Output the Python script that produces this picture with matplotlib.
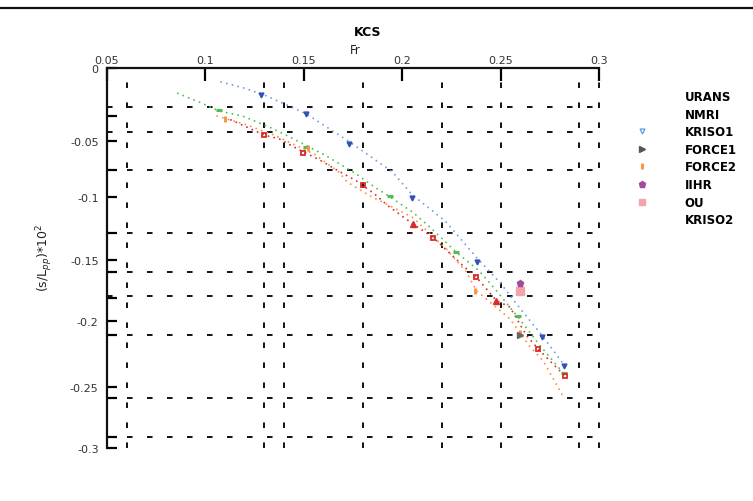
import matplotlib
matplotlib.use("Agg")
import matplotlib.pyplot as plt
from matplotlib.lines import Line2D

plt.rcParams["font.family"] = ["DejaVu Sans"]
plt.rcParams["lines.scale_dashes"] = False

# --- sinkage vs Froude number, KCS ------------------------------------------
kriso1_fr = [0.108, 0.120, 0.131, 0.151, 0.173, 0.195, 0.205, 0.222, 0.238, 0.250, 0.261, 0.271, 0.283]
kriso1_s = [-0.011, -0.016, -0.022, -0.036, -0.058, -0.082, -0.100, -0.121, -0.150, -0.170, -0.192, -0.211, -0.236]

kriso2_fr = [0.128, 0.151, 0.173, 0.205, 0.238, 0.271, 0.282]
kriso2_s = [-0.021, -0.036, -0.060, -0.103, -0.153, -0.212, -0.235]

nmri_fr = [0.086, 0.097, 0.107, 0.119, 0.133, 0.141, 0.156, 0.161, 0.177, 0.185, 0.194,
           0.2055, 0.214, 0.2275, 0.239, 0.248, 0.259, 0.270, 0.283]
nmri_s = [-0.020, -0.027, -0.034, -0.038, -0.047, -0.053, -0.065, -0.069, -0.084, -0.093, -0.102,
          -0.114, -0.1255, -0.1455, -0.160, -0.176, -0.197, -0.219, -0.243]
nmri_pts_fr = [0.107, 0.151, 0.194, 0.2275, 0.259, 0.282]
nmri_pts_s = [-0.033, -0.062, -0.101, -0.145, -0.196, -0.241]

force2_fr = [0.106, 0.1155, 0.1214, 0.1274, 0.135, 0.1417, 0.1554, 0.168, 0.172, 0.1834, 0.1987,
             0.2053, 0.2225, 0.2326, 0.2377, 0.2486, 0.2547, 0.2649, 0.2715, 0.2776, 0.2815]
force2_s = [-0.038, -0.0424, -0.045, -0.0487, -0.053, -0.058, -0.068, -0.0824, -0.090, -0.1008, -0.1127,
            -0.118, -0.143, -0.161, -0.1758, -0.190, -0.198, -0.220, -0.231, -0.2476, -0.2587]
force2_pts_fr = [0.110, 0.152, 0.237, 0.260]
force2_pts_s = [-0.040, -0.063, -0.176, -0.209]

urans_fr = [0.113, 0.130, 0.1376, 0.147, 0.1588, 0.1673, 0.1766, 0.186, 0.1927, 0.2055, 0.2157,
            0.2308, 0.2377, 0.2479, 0.2547, 0.2632, 0.2691, 0.2766, 0.2827]
urans_s = [-0.041, -0.053, -0.056, -0.064, -0.0732, -0.081, -0.089, -0.0995, -0.1087, -0.1232, -0.1337,
           -0.156, -0.1652, -0.1837, -0.1887, -0.2113, -0.2218, -0.2337, -0.243]
urans_sq_fr = [0.130, 0.1494, 0.180, 0.2157, 0.2377, 0.2691, 0.2827]
urans_sq_s = [-0.053, -0.067, -0.092, -0.134, -0.165, -0.222, -0.243]
urans_tri_fr = [0.2055, 0.2479]
urans_tri_s = [-0.123, -0.184]

force1_fr = [0.2598]
force1_s = [-0.2108]
iihr_fr = [0.260]
iihr_s = [-0.170]
ou_fr = [0.260]
ou_s = [-0.176]

legend_labels = ["URANS", "NMRI", "KRISO1", "FORCE1", "FORCE2", "IIHR", "OU", "KRISO2"]

x_ticks = [0.05, 0.1, 0.15, 0.2, 0.25, 0.3]
x_ticklabels = ["0.05", "0.1", "0.15", "0.2", "0.25", "0.3"]
y_ticks = [0.0, -0.0576, -0.1018, -0.1516, -0.1997, -0.2518, -0.3]
y_ticklabels = ["0", "-0.05", "-0.1", "-0.15", "-0.2", "-0.25", "-0.3"]
y_minor = [-0.0379, -0.0805, -0.1303, -0.161, -0.1816, -0.2108, -0.2605, -0.2913]
grid_y = [-0.0308, -0.0505, -0.0805, -0.1303, -0.1611, -0.180, -0.2108, -0.2605, -0.2913]
grid_x = [0.06, 0.13, 0.14, 0.18, 0.22, 0.25, 0.29, 0.30]

BLUE = "#6f9ee0"
DBLUE = "#2f52b8"
GREEN = "#4fbf4f"
ORANGE = "#f8913a"
RED = "#d92b2b"

fig = plt.figure(figsize=(7.53, 5.02), dpi=100)
ax = fig.add_axes([107 / 753, 1 - 449 / 502, 492 / 753, 380 / 502])
ax.set_xlim(0.05, 0.3)
ax.set_ylim(-0.3, 0.0)

# dashed reference grid
dash = (0, (4.0, 10.4))
for gy in grid_y:
    ax.axhline(gy, color="#111", lw=1.4, ls=dash, zorder=1)
for gx in grid_x:
    ax.axvline(gx, color="#111", lw=1.4, ls=dash, zorder=1, clip_on=False)

dots = dict(lw=1.4, ls=(0, (0.01, 4.2)), dash_capstyle="round", zorder=3)
ax.plot(kriso1_fr, kriso1_s, color=BLUE, **dots)
ax.plot(nmri_fr, nmri_s, color=GREEN, **dots)
ax.plot(force2_fr, force2_s, color=ORANGE, **dots)
ax.plot(urans_fr, urans_s, color=RED, **dots)

ax.plot(kriso2_fr, kriso2_s, "v", ms=3.5, color=DBLUE, ls="none", zorder=4)
ax.plot(nmri_pts_fr, nmri_pts_s, "_", ms=5, mew=2.2, color=GREEN, ls="none", zorder=4)
ax.plot(force2_pts_fr, force2_pts_s, "|", ms=4.5, mew=2.0, color=ORANGE, ls="none", zorder=4)
ax.plot(urans_sq_fr, urans_sq_s, "s", ms=3.5, mfc="none", mew=1.3, color=RED, ls="none", zorder=4)
ax.plot(urans_tri_fr, urans_tri_s, "^", ms=5, color=RED, ls="none", zorder=4)
ax.plot(force1_fr, force1_s, ">", ms=4.5, color="#666666", ls="none", zorder=5)
ax.plot(ou_fr, ou_s, "s", ms=6, color="#f4a3aa", ls="none", zorder=5)
ax.plot(iihr_fr, iihr_s, "p", ms=4.5, color="#a24aa0", ls="none", zorder=6)

# axes frame: top and left only
for side in ("right", "bottom"):
    ax.spines[side].set_visible(False)
for side in ("top", "left"):
    ax.spines[side].set_linewidth(1.6)
    ax.spines[side].set_color("#111")

ax.xaxis.tick_top()
ax.set_xticks(x_ticks)
ax.set_xticklabels(x_ticklabels)
ax.set_yticks(y_ticks)
ax.set_yticklabels(y_ticklabels)
ax.set_yticks(y_minor, minor=True)
ax.tick_params(axis="x", direction="in", length=9, width=1.6, labelsize=8,
               labelcolor="#333", pad=2, top=True, bottom=False)
ax.tick_params(axis="y", which="both", direction="in", length=7, width=1.6,
               labelsize=8, labelcolor="#333", pad=6)

fig.text(355 / 753, 1 - 51 / 502, "Fr", fontsize=8.5, ha="center", va="center", color="#222")
fig.text(368 / 753, 1 - 33 / 502, "KCS", fontsize=9, fontweight="bold", ha="center", va="center")
fig.text(45 / 753, 1 - 258 / 502, r"(s/L$_{pp}$)*10$^2$", fontsize=9, rotation=90,
         ha="center", va="center", color="#222")

# rule across the top of the figure
fig.add_artist(Line2D([0, 1], [1 - 9 / 502, 1 - 9 / 502], transform=fig.transFigure,
                      color="#111", lw=1.6))

handles = [
    Line2D([], [], ls="none"),
    Line2D([], [], ls="none"),
    Line2D([], [], ls="none", marker="v", ms=3.5, mfc="none", mec=BLUE),
    Line2D([], [], ls="none", marker=">", ms=4, color="#555"),
    Line2D([], [], ls="none", marker="|", ms=5, mew=2, color=ORANGE),
    Line2D([], [], ls="none", marker="p", ms=5, color="#a24aa0"),
    Line2D([], [], ls="none", marker="s", ms=5, color="#f4a3aa"),
    Line2D([], [], ls="none"),
]
leg = ax.legend(handles, legend_labels, loc="upper left", bbox_to_anchor=(0.831, 0.828),
                bbox_transform=fig.transFigure, frameon=False, handlelength=2.0,
                handletextpad=2.6, labelspacing=0.39, borderaxespad=0,
                prop={"size": 8.5, "weight": "bold"})

fig.savefig("out.png", dpi=100)
